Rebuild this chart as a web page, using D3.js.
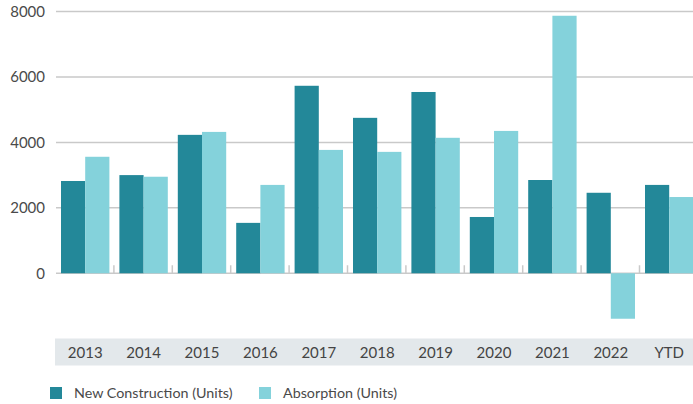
<!DOCTYPE html>
<html>
<head>
<meta charset="utf-8">
<script src="https://cdn.jsdelivr.net/npm/d3@7"></script>
<style>
  body { margin: 0; background: #fff; }
  text { font-family: Lato, "Open Sans", sans-serif; }
</style>
</head>
<body>
<svg id="chart" width="693" height="404"></svg>
<script>
// données
const annees = ["2013", "2014", "2015", "2016", "2017", "2018", "2019", "2020", "2021", "2022", "YTD"];
const nouvelleConstruction = [2820, 3000, 4230, 1540, 5730, 4750, 5540, 1720, 2850, 2460, 2700];
const absorption = [3560, 2950, 4320, 2700, 3770, 3710, 4140, 4350, 7870, -1390, 2330];
const series = ["New Construction (Units)", "Absorption (Units)"];
const couleurs = ["#238899", "#84d2db"];
const yTicks = [0, 2000, 4000, 6000, 8000];

const svg = d3.select("#chart");

// marges
const margeGauche = 56, margeDroite = 698.4, margeHaut = 11.5, margeBas = 338.7;

const x0 = d3.scaleBand().domain(annees).range([margeGauche, margeDroite]).padding(0);
const x1 = d3.scaleBand().domain([0, 1]).range([5, x0.bandwidth() - 5]).padding(0);
const y = d3.scaleLinear().domain([-2000, 8000]).range([margeBas, margeHaut]);

// lignes de la grille
svg.append("g")
  .selectAll("line")
  .data(yTicks)
  .enter()
  .append("line")
  .attr("x1", margeGauche)
  .attr("x2", 693)
  .attr("y1", d => y(d))
  .attr("y2", d => y(d))
  .attr("stroke", "#c9c9c9")
  .attr("stroke-width", 1.5);

// étiquettes de l'axe y
svg.append("g")
  .selectAll("text")
  .data(yTicks)
  .enter()
  .append("text")
  .attr("x", 45)
  .attr("y", d => y(d))
  .attr("dy", "0.35em")
  .attr("text-anchor", "end")
  .attr("font-size", 15)
  .attr("fill", "#4a4a4a")
  .text(d => d);

// petites marques sur l'axe x
svg.append("g")
  .selectAll("line")
  .data(annees.slice(1))
  .enter()
  .append("line")
  .attr("x1", d => x0(d) - 0.5)
  .attr("x2", d => x0(d) - 0.5)
  .attr("y1", y(0) - 8)
  .attr("y2", y(0))
  .attr("stroke", "#c9c9c9")
  .attr("stroke-width", 1.5);

// barres
const groupes = svg.append("g")
  .selectAll("g")
  .data(annees)
  .enter()
  .append("g")
  .attr("transform", d => "translate(" + x0(d) + ",0)");

groupes.selectAll("rect")
  .data((d, i) => [nouvelleConstruction[i], absorption[i]])
  .enter()
  .append("rect")
  .attr("x", (d, j) => x1(j))
  .attr("width", x1.bandwidth())
  .attr("y", d => y(Math.max(0, d)))
  .attr("height", d => Math.abs(y(d) - y(0)))
  .attr("fill", (d, j) => couleurs[j]);

// bande des étiquettes de l'axe x
svg.append("rect")
  .attr("x", 55)
  .attr("y", 338.5)
  .attr("width", 693 - 55)
  .attr("height", 27)
  .attr("fill", "#e3e8eb");

svg.append("g")
  .selectAll("text")
  .data(annees)
  .enter()
  .append("text")
  .attr("x", d => x0(d) + x0.bandwidth() / 2)
  .attr("y", 352.5)
  .attr("dy", "0.35em")
  .attr("text-anchor", "middle")
  .attr("font-size", 15)
  .attr("fill", "#444")
  .text(d => d);

// légende
const legendeX = [50, 259];
const legende = svg.append("g")
  .selectAll("g")
  .data(series)
  .enter()
  .append("g")
  .attr("transform", (d, i) => "translate(" + legendeX[i] + ",387)");

legende.append("rect")
  .attr("width", 12)
  .attr("height", 12)
  .attr("fill", (d, i) => couleurs[i]);

legende.append("text")
  .attr("x", 24)
  .attr("y", 6)
  .attr("dy", "0.35em")
  .attr("font-size", 14.3)
  .attr("fill", "#4a4a4a")
  .text(d => d);
</script>
</body>
</html>
